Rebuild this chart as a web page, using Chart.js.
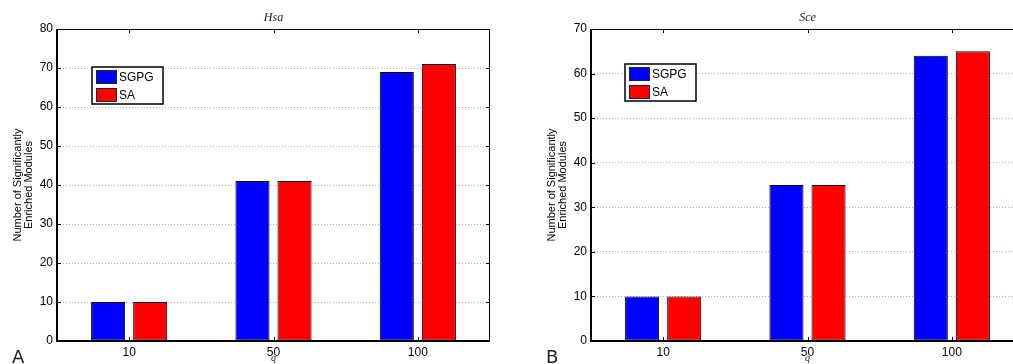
<!DOCTYPE html>
<html lang="en">
<head>
    <meta charset="UTF-8">
    <title>Significantly Enriched Modules</title>
    <script src="https://cdn.jsdelivr.net/npm/chart.js@4.4.0/dist/chart.umd.min.js"></script>
    <style>
        html, body {
            margin: 0;
            padding: 0;
            background: #fff;
            overflow: hidden;
            width: 1013px;
            height: 364px;
        }
        canvas {
            position: absolute;
            top: 0;
        }
        #chartHsa { left: 0; }
        #chartSce { left: 520px; }
    </style>
</head>
<body>
    <canvas id="chartHsa" width="510" height="364"></canvas>
    <canvas id="chartSce" width="524" height="364"></canvas>

    <script>
        // q values on the x axis
        const qValues = ['10', '50', '100'];

        // Hsa panel
        const hsaSGPG = [10, 41, 69];
        const hsaSA = [10, 41, 71];
        const hsaMax = 80;

        // Sce panel
        const sceSGPG = [10, 35, 64];
        const sceSA = [10, 35, 65];
        const sceMax = 70;

        const seriesNames = ['SGPG', 'SA'];
        const yTitle = ['Number of Significantly', 'Enriched Modules'];

        // draws the matlab-ish extras: box, inward ticks, legend, titles
        const panelDecor = {
            id: 'panelDecor',
            afterDraw(chart, args, opts) {
                const ctx = chart.ctx;
                const a = chart.chartArea;
                const xs = chart.scales.x;
                const ys = chart.scales.y;
                ctx.save();

                // axes box
                ctx.strokeStyle = '#000';
                ctx.lineWidth = 1;
                ctx.beginPath();
                ctx.moveTo(a.left, a.top + 0.5);
                ctx.lineTo(a.right - 0.5, a.top + 0.5);
                ctx.lineTo(a.right - 0.5, a.bottom);
                ctx.stroke();
                ctx.lineWidth = 2;
                ctx.beginPath();
                ctx.moveTo(a.left, a.top);
                ctx.lineTo(a.left, a.bottom);
                ctx.lineTo(a.right, a.bottom);
                ctx.stroke();

                // inward ticks
                ctx.lineWidth = 1;
                ctx.beginPath();
                xs.ticks.forEach((t, i) => {
                    const x = Math.round(xs.getPixelForTick(i)) + 0.5;
                    ctx.moveTo(x, a.bottom);
                    ctx.lineTo(x, a.bottom - 4);
                    ctx.moveTo(x, a.top);
                    ctx.lineTo(x, a.top + 4);
                });
                ys.ticks.forEach((t, i) => {
                    const y = Math.round(ys.getPixelForTick(i)) + 0.5;
                    ctx.moveTo(a.left, y);
                    ctx.lineTo(a.left + 4, y);
                    ctx.moveTo(a.right, y);
                    ctx.lineTo(a.right - 4, y);
                });
                ctx.stroke();

                // legend
                const lx = a.left + opts.legendX;
                const ly = a.top + opts.legendY;
                ctx.fillStyle = '#fff';
                ctx.fillRect(lx, ly, 71, 37);
                ctx.lineWidth = 1.5;
                ctx.strokeRect(lx, ly, 71, 37);
                ctx.font = '12px "Liberation Sans", Arial, sans-serif';
                ctx.textBaseline = 'middle';
                ctx.textAlign = 'left';
                chart.data.datasets.forEach((ds, i) => {
                    const sy = ly + 3 + i * 18;
                    ctx.fillStyle = ds.backgroundColor;
                    ctx.fillRect(lx + 4, sy, 21, 14);
                    ctx.lineWidth = 1;
                    ctx.strokeStyle = '#222';
                    ctx.strokeRect(lx + 4.5, sy + 0.5, 20, 13);
                    ctx.fillStyle = '#000';
                    ctx.fillText(ds.label, lx + 27, sy + 8);
                });

                // panel title
                const cx = (a.left + a.right) / 2;
                ctx.font = 'italic 12px "Liberation Serif", "DejaVu Serif", serif';
                ctx.textAlign = 'center';
                ctx.fillStyle = '#222';
                ctx.fillText(opts.title, cx, 18);

                // x label
                ctx.font = 'italic 10px "Liberation Serif", serif';
                ctx.fillText('q', xs.getPixelForTick(1), 358);

                // y title, two lines
                ctx.save();
                ctx.translate(a.left - 39, (a.top + a.bottom) / 2);
                ctx.rotate(-Math.PI / 2);
                ctx.font = '11px "Liberation Sans", Arial, sans-serif';
                ctx.fillStyle = '#000';
                ctx.fillText(yTitle[0], 0, 0);
                ctx.fillText(yTitle[1], 0, 11);
                ctx.restore();

                // panel letter
                ctx.font = '18px "DejaVu Sans", sans-serif';
                ctx.textAlign = 'left';
                ctx.textBaseline = 'alphabetic';
                ctx.fillText(opts.letter, a.left - 45, 363);

                ctx.restore();
            }
        };

        function makePanel(id, title, letter, sgpg, sa, yMax, axisWidth, legendX, legendY) {
            return new Chart(document.getElementById(id), {
                type: 'bar',
                data: {
                    labels: qValues,
                    datasets: [{
                        label: seriesNames[0],
                        data: sgpg,
                        backgroundColor: '#0000ff',
                        borderColor: '#000',
                        borderWidth: 1,
                        borderSkipped: false
                    }, {
                        label: seriesNames[1],
                        data: sa,
                        backgroundColor: '#ff0000',
                        borderColor: '#000',
                        borderWidth: 1,
                        borderSkipped: false
                    }]
                },
                options: {
                    responsive: false,
                    animation: false,
                    layout: { padding: { top: 29, right: 20, left: 0, bottom: 0 } },
                    datasets: {
                        bar: { categoryPercentage: 0.583, barPercentage: 0.81 }
                    },
                    plugins: {
                        legend: { display: false },
                        tooltip: { enabled: false },
                        panelDecor: { title: title, letter: letter, legendX: legendX, legendY: legendY }
                    },
                    scales: {
                        x: {
                            grid: { display: false, drawTicks: false },
                            border: { display: false },
                            ticks: {
                                color: '#000',
                                padding: 4,
                                font: { family: '"Liberation Sans", Arial, sans-serif', size: 12 }
                            },
                            afterFit: s => { s.height = 23; }
                        },
                        y: {
                            min: 0,
                            max: yMax,
                            grid: {
                                color: '#b0b0b0',
                                lineWidth: 1,
                                drawTicks: false
                            },
                            border: { display: false, dash: [1, 2] },
                            ticks: {
                                stepSize: 10,
                                color: '#000',
                                padding: 4,
                                font: { family: '"Liberation Sans", Arial, sans-serif', size: 12 }
                            },
                            afterFit: s => { s.width = axisWidth; }
                        }
                    }
                },
                plugins: [panelDecor]
            });
        }

        makePanel('chartHsa', 'Hsa', 'A', hsaSGPG, hsaSA, hsaMax, 57, 35, 38);
        makePanel('chartSce', 'Sce', 'B', sceSGPG, sceSA, sceMax, 71, 34, 35);
    </script>
</body>
</html>
